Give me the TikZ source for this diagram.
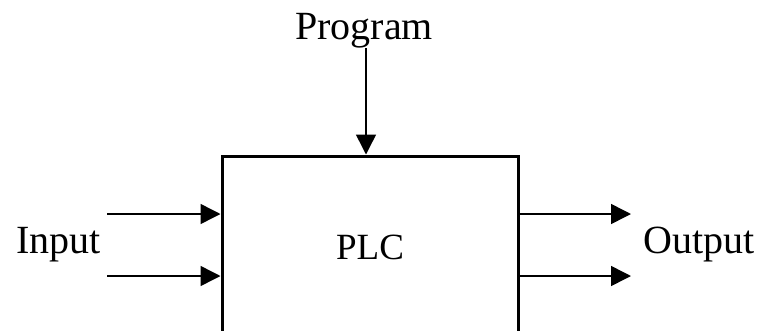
\documentclass[tikz,border=0pt]{standalone}
\usepackage{fontspec}
\setmainfont{Liberation Serif}
\usepackage{tikz}
\usetikzlibrary{positioning, arrows.meta, calc}

\begin{document}
\begin{tikzpicture}[
  x=1pt, y=-1pt,
  lbl/.style={font=\fontsize{40}{48}\selectfont, inner sep=0pt, anchor=base},
  box/.style={draw, line width=3pt, minimum width=296pt, minimum height=182pt,
              font=\fontsize{37}{44}\selectfont},
  arr/.style={line width=1.5pt, -{Triangle[length=20pt, width=20pt]}},
]
  \clip (0,0) rectangle (761,330);
  \node[box] (plc) at (370,247) {PLC};
  \node[lbl] (prog) at (364,39) {Program};
  \node[lbl] (inp) at (58.5,253) {Input};
  \node[lbl] (outp) at (699,253) {Output};
  % free ends of the arrows
  \coordinate (ptop) at ($(prog.south)+(2,0)$);
  \coordinate (in1) at (107,214);
  \coordinate (in2) at (107,276);
  \coordinate (out1) at (631,214);
  \coordinate (out2) at (631,276);
  \draw[arr] (ptop) -- (ptop |- plc.north);
  \draw[arr] (in1) -- (in1 -| plc.west);
  \draw[arr] (in2) -- (in2 -| plc.west);
  \draw[arr] (out1 -| plc.east) -- (out1);
  \draw[arr] (out2 -| plc.east) -- (out2);
\end{tikzpicture}
\end{document}
